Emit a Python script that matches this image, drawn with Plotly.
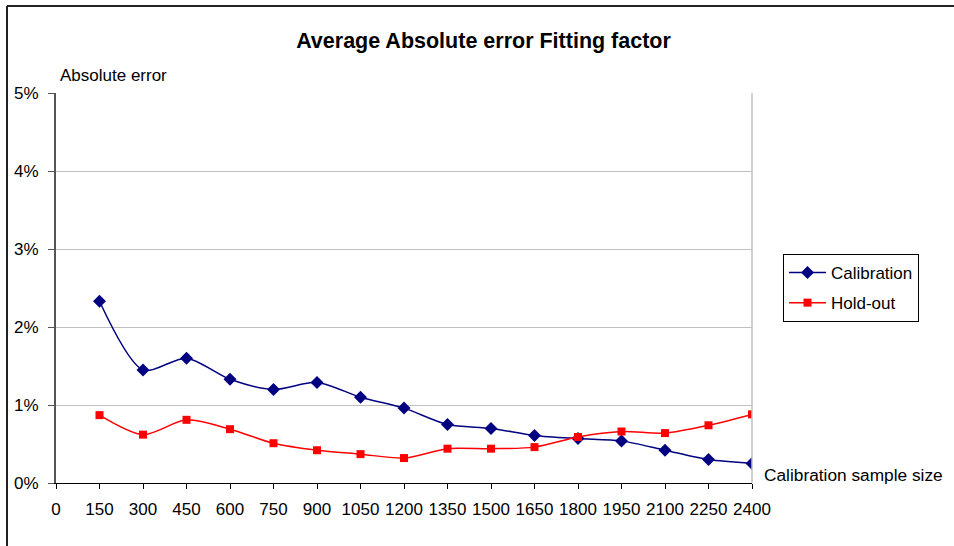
import plotly.graph_objects as go

# Calibration sample sizes and average absolute errors (as fractions)
sample_size = [150, 300, 450, 600, 750, 900, 1050, 1200, 1350, 1500,
               1650, 1800, 1950, 2100, 2250, 2400]
calibration = [0.0233, 0.0145, 0.0160, 0.0133, 0.0120, 0.0129, 0.0110, 0.0096,
               0.0075, 0.0070, 0.0061, 0.0057, 0.0054, 0.0042, 0.0030, 0.0025]
hold_out = [0.0087, 0.0062, 0.0081, 0.0069, 0.0051, 0.0042, 0.0037, 0.0032,
            0.0044, 0.0044, 0.0046, 0.0059, 0.0066, 0.0064, 0.0074, 0.0088]
x_ticks = list(range(0, 2401, 150))
y_ticks = [0, 0.01, 0.02, 0.03, 0.04, 0.05]

FONT = "Liberation Sans, Arial, sans-serif"

fig = go.Figure()
fig.add_trace(go.Scatter(
    x=sample_size, y=calibration, name="Calibration", mode="lines+markers",
    line=dict(color="#000080", width=1.5, shape="spline", smoothing=0.8),
    marker=dict(symbol="diamond", size=10, color="#000080"),
    legendgroup="cal",
))
fig.add_trace(go.Scatter(
    x=sample_size, y=hold_out, name="Hold-out", mode="lines+markers",
    line=dict(color="#ff0000", width=1.5, shape="spline", smoothing=0.8),
    marker=dict(symbol="square", size=8, color="#ff0000"),
    legendgroup="hold",
))

W, H = 954, 546
L, R, T, B = 56, 202, 93, 63
pw, ph = W - L - R, H - T - B


def px_x(p):
    return (p - L) / pw


def px_y(p):
    return (H - B - p) / ph


fig.update_layout(
    width=W, height=H,
    margin=dict(l=L, r=R, t=T, b=B),
    paper_bgcolor="white", plot_bgcolor="white",
    font=dict(family=FONT, size=17, color="black"),
    title=dict(text="<b>Average Absolute error Fitting factor</b>",
               font=dict(family=FONT, size=21.5, color="black"),
               xref="container", x=483.5 / W, xanchor="center",
               yref="container", y=1 - 40 / H, yanchor="middle"),
    showlegend=True,
    legend=dict(x=px_x(783), y=px_y(254), xanchor="left", yanchor="top",
                bordercolor="black", borderwidth=1, bgcolor="white",
                font=dict(family=FONT, size=17, color="black"),
                tracegroupgap=5, itemwidth=37, traceorder="grouped"),
    xaxis=dict(range=[0, 2400], tickvals=x_ticks,
               ticktext=[str(v) for v in x_ticks],
               showgrid=False, zeroline=False,
               showline=True, linecolor="black", linewidth=1,
               ticks="outside", ticklen=5, tickcolor="black",
               ticklabelstandoff=6,
               tickfont=dict(family=FONT, size=17, color="black")),
    yaxis=dict(range=[0, 0.05], tickvals=y_ticks, tickformat=".0%",
               showgrid=True, gridcolor="#c0c0c0", gridwidth=1,
               zeroline=False,
               showline=True, linecolor="#555555", linewidth=2,
               ticks="outside", ticklen=6, tickcolor="#555555",
               ticklabelstandoff=6,
               tickfont=dict(family=FONT, size=17, color="black")),
)

# Right edge of the plot area
fig.add_shape(type="line", xref="paper", yref="paper", x0=1, x1=1, y0=0, y1=1,
              line=dict(color="#c0c0c0", width=1.5))
# Chart frame (left and top edges)
fig.add_shape(type="line", xref="paper", yref="paper",
              x0=px_x(7), x1=px_x(7), y0=px_y(560), y1=px_y(6),
              line=dict(color="#222222", width=2))
fig.add_shape(type="line", xref="paper", yref="paper",
              x0=px_x(7), x1=px_x(970), y0=px_y(6), y1=px_y(6),
              line=dict(color="#222222", width=2))

fig.add_annotation(text="Absolute error", xref="paper", yref="paper",
                   x=px_x(58), y=px_y(76), xanchor="left", yanchor="middle",
                   showarrow=False, font=dict(family=FONT, size=17, color="black"))
fig.add_annotation(text="Calibration sample size", xref="paper", yref="paper",
                   x=px_x(762), y=px_y(475), xanchor="left", yanchor="middle",
                   showarrow=False, font=dict(family=FONT, size=17.3, color="black"))

fig.write_html("out.html")
